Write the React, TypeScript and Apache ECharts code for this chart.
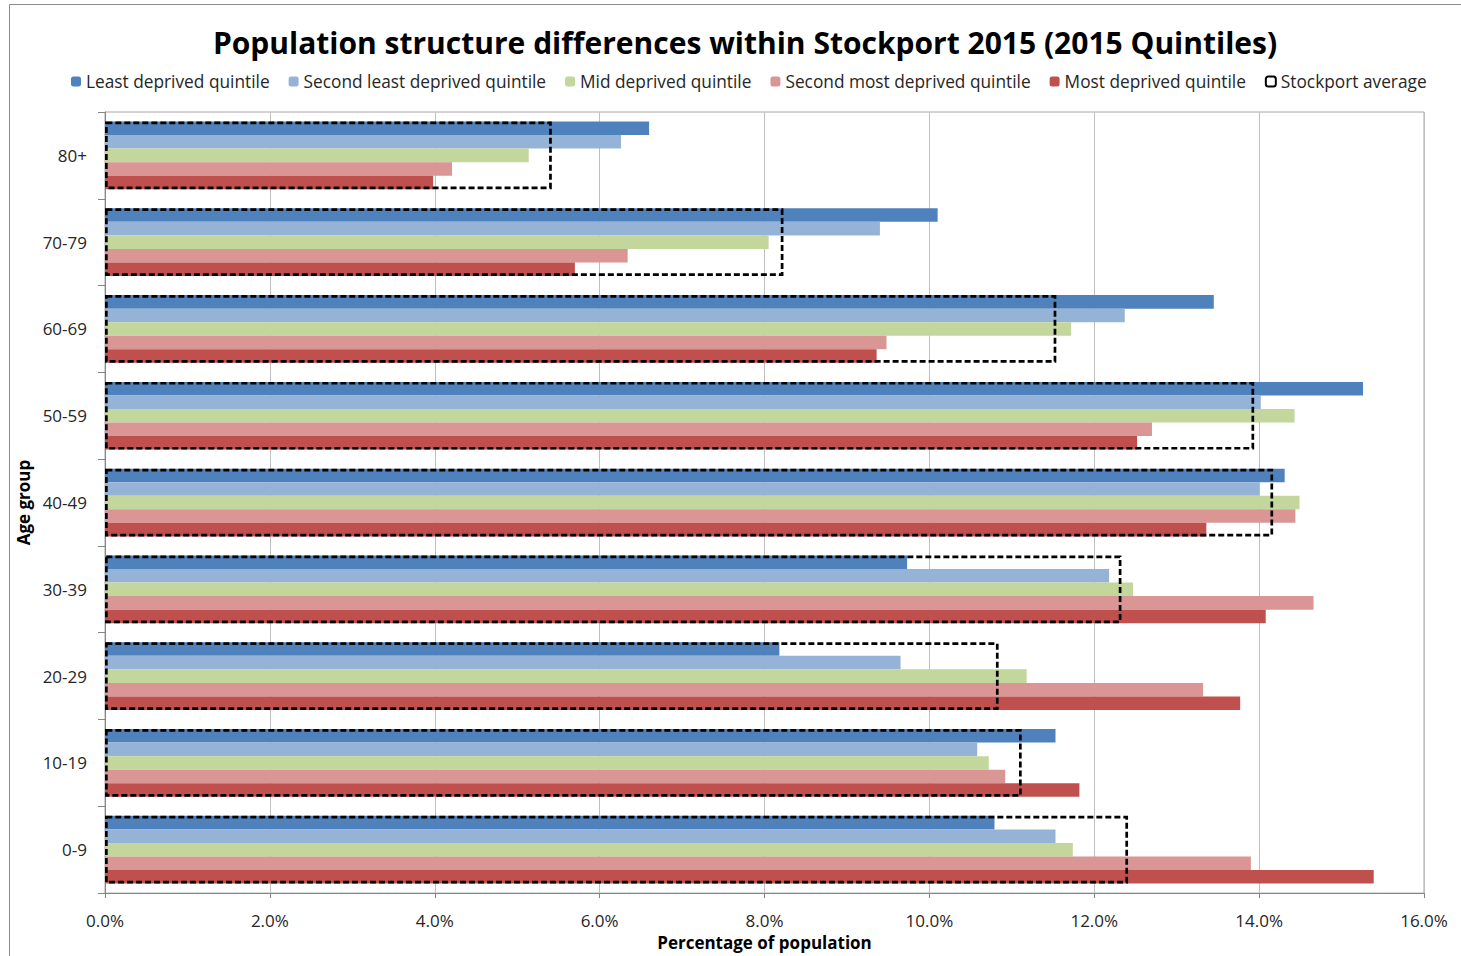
import React, { useEffect, useRef } from "react";
import * as echarts from "echarts";

const categories = ["0-9", "10-19", "20-29", "30-39", "40-49", "50-59", "60-69", "70-79", "80+"];
const seriesNames = [
  "Least deprived quintile",
  "Second least deprived quintile",
  "Mid deprived quintile",
  "Second most deprived quintile",
  "Most deprived quintile",
];
const averageName = "Stockport average";
const leastDeprived = [10.79, 11.53, 8.18, 9.73, 14.31, 15.26, 13.45, 10.1, 6.6];
const secondLeastDeprived = [11.53, 10.58, 9.65, 12.18, 14.0, 14.02, 12.37, 9.4, 6.26];
const midDeprived = [11.74, 10.72, 11.18, 12.47, 14.49, 14.43, 11.72, 8.05, 5.14];
const secondMostDeprived = [13.9, 10.92, 13.32, 14.66, 14.44, 12.7, 9.48, 6.34, 4.21];
const mostDeprived = [15.39, 11.82, 13.77, 14.08, 13.36, 12.52, 9.36, 5.7, 3.98];
const stockportAverage = [12.41, 11.12, 10.84, 12.33, 14.17, 13.94, 11.54, 8.23, 5.42];
const colors = ["#4F81BD", "#95B3D7", "#C3D69B", "#D99694", "#C0504D"];

const FONT = "Open Sans";

export default function App() {
  const ref = useRef<HTMLDivElement>(null);
  useEffect(() => {
    if (!ref.current) return;
    const chart = echarts.init(ref.current, null, { renderer: "svg" });
    const values = [leastDeprived, secondLeastDeprived, midDeprived, secondMostDeprived, mostDeprived];
    const bars = seriesNames.map((name, i) => ({
      name,
      type: "bar",
      yAxisIndex: 0,
      data: values[i],
      barGap: "0%",
      barCategoryGap: "22%",
      itemStyle: { color: colors[i] },
      z: 2,
    }));
    chart.setOption({
      animation: false,
      backgroundColor: "#fff",
      textStyle: { fontFamily: FONT },
      title: {
        text: "Population structure differences within Stockport 2015 (2015 Quintiles)",
        left: 740,
        textAlign: "center",
        top: 22,
        textStyle: { fontFamily: FONT, fontSize: 30, fontWeight: "bold", color: "#000" },
      },
      legend: {
        left: 66,
        top: 68,
        itemWidth: 10,
        itemHeight: 10,
        itemGap: 19,
        textStyle: { fontFamily: FONT, fontSize: 17.3, color: "#262626" },
        data: [
          ...seriesNames.map((n) => ({ name: n })),
          {
            name: averageName,
            itemStyle: { color: "#fff", borderColor: "#000", borderWidth: 2, borderType: "solid" },
          },
        ],
      },
      grid: {
        left: 105,
        right: 37,
        top: 112,
        bottom: 54.5,
        show: true,
        borderColor: "#A6A6A6",
        borderWidth: 1,
        containLabel: false,
      },
      xAxis: {
        type: "value",
        min: 0,
        max: 16,
        interval: 2,
        name: "Percentage of population",
        nameLocation: "middle",
        nameGap: 36,
        nameTextStyle: { fontFamily: FONT, fontSize: 17, fontWeight: "bold", color: "#000" },
        axisLine: { show: true, lineStyle: { color: "#868686", width: 1 } },
        axisTick: { show: true, length: 5, lineStyle: { color: "#868686" } },
        axisLabel: {
          fontFamily: FONT,
          fontSize: 17,
          color: "#262626",
          margin: 19,
          formatter: (v: number) => v.toFixed(1) + "%",
        },
        splitLine: { show: true, lineStyle: { color: "#BFBFBF", width: 1 } },
      },
      yAxis: [
        {
          type: "category",
          data: categories,
          name: "Age group",
          nameLocation: "middle",
          nameGap: 70,
          nameRotate: 90,
          nameTextStyle: { fontFamily: FONT, fontSize: 17, fontWeight: "bold", color: "#000" },
          axisLine: { show: true, lineStyle: { color: "#868686", width: 1 } },
          axisTick: { show: true, length: 7, lineStyle: { color: "#868686" } },
          axisLabel: { fontFamily: FONT, fontSize: 17, color: "#262626", margin: 18 },
          splitLine: { show: false },
        },
        {
          type: "category",
          data: categories,
          show: false,
          position: "left",
        },
      ],
      series: [
        ...bars,
        {
          name: averageName,
          type: "bar",
          yAxisIndex: 1,
          data: stockportAverage,
          barCategoryGap: "22%",
          itemStyle: {
            color: "rgba(0,0,0,0)",
            borderColor: "#000",
            borderWidth: 2.7,
            borderType: [6, 3],
          },
          z: 5,
        },
      ],
      graphic: [
        {
          type: "rect",
          shape: { x: 9.5, y: 4.5, width: 1500, height: 1000 },
          style: { fill: "none", stroke: "#8C8C8C", lineWidth: 1 },
          silent: true,
          z: 0,
        },
      ],
    });
    return () => chart.dispose();
  }, []);
  return (
    <div
      ref={ref}
      style={{ position: "absolute", left: 0, top: 0, width: 1461, height: 956 }}
    />
  );
}
